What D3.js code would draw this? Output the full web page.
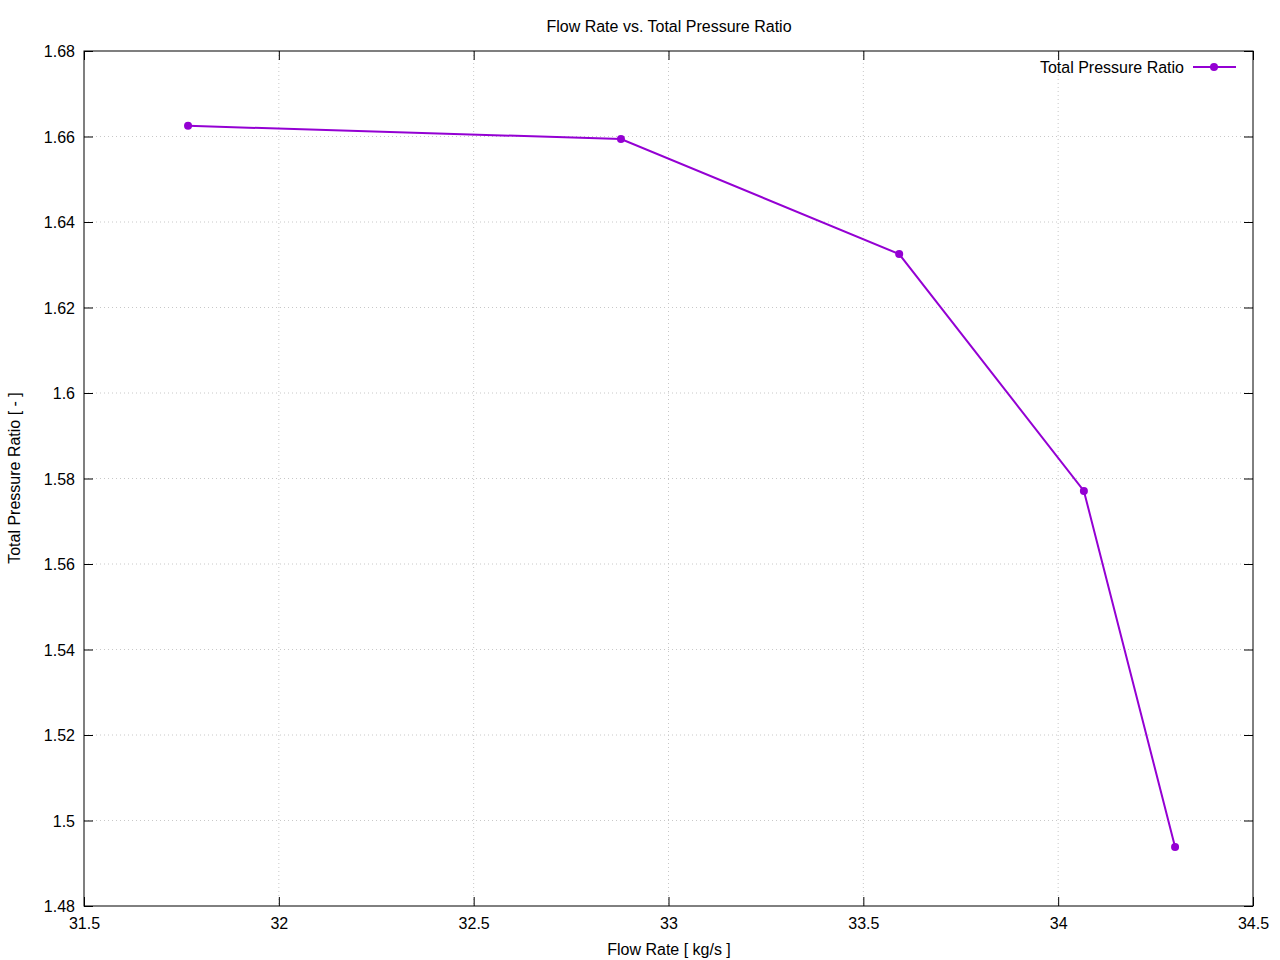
<!DOCTYPE html>
<html><head><meta charset="utf-8">
<script src="https://cdn.jsdelivr.net/npm/d3@7"></script>
<style>body{margin:0;background:#fff}svg{display:block}text{font-family:"Liberation Sans",Arial,sans-serif;fill:#000}</style>
</head><body><svg id="c" width="1280" height="960"></svg>
<script>
const flowRate = [31.767, 32.878, 33.592, 34.066, 34.300];
const pressureRatio = [1.6625, 1.6594, 1.6325, 1.5771, 1.4938];
const xTicks = [31.5, 32, 32.5, 33, 33.5, 34, 34.5];
const yTicks = [1.48, 1.5, 1.52, 1.54, 1.56, 1.58, 1.6, 1.62, 1.64, 1.66, 1.68];
const seriesName = "Total Pressure Ratio";
const titleText = "Flow Rate vs. Total Pressure Ratio";
const xLabel = "Flow Rate [ kg/s ]";
const yLabel = "Total Pressure Ratio [ - ]";

const svg = d3.select("#c");
const L = 84, R = 1253, T = 51, B = 906;
const color = "#9400d3";
const x = d3.scaleLinear().domain([31.5, 34.5]).range([L, R]);
const y = d3.scaleLinear().domain([1.48, 1.68]).range([B, T]);

// grid
const g = svg.append("g");
g.selectAll("line.gx").data(xTicks.slice(1, -1)).enter().append("line")
  .attr("x1", d => x(d)).attr("x2", d => x(d)).attr("y1", T).attr("y2", B)
  .attr("stroke", "#c8c8c8").attr("stroke-width", 1).attr("stroke-dasharray", "1,3");
g.selectAll("line.gy").data(yTicks.slice(1, -1)).enter().append("line")
  .attr("x1", L).attr("x2", R).attr("y1", d => y(d)).attr("y2", d => y(d))
  .attr("stroke", "#c8c8c8").attr("stroke-width", 1).attr("stroke-dasharray", "1,3");

// axes
const fmt = d => String(+d.toFixed(2));
const ax = svg.append("g").attr("transform", `translate(0,${B})`)
  .call(d3.axisBottom(x).tickValues(xTicks).tickFormat(fmt).tickSizeInner(-9).tickSizeOuter(0).tickPadding(12));
const axT = svg.append("g").attr("transform", `translate(0,${T})`)
  .call(d3.axisTop(x).tickValues(xTicks).tickFormat("").tickSizeInner(-9).tickSizeOuter(0));
const ay = svg.append("g").attr("transform", `translate(${L},0)`)
  .call(d3.axisLeft(y).tickValues(yTicks).tickFormat(fmt).tickSizeInner(-9).tickSizeOuter(0).tickPadding(9));
const ayR = svg.append("g").attr("transform", `translate(${R},0)`)
  .call(d3.axisRight(y).tickValues(yTicks).tickFormat("").tickSizeInner(-9).tickSizeOuter(0));
[ax, axT, ay, ayR].forEach(a => {
  a.select(".domain").remove();
  a.selectAll(".tick line").attr("stroke", "#000").attr("stroke-width", 1);
  a.selectAll("text").style("font-size", "16px").style("font-family", '"Liberation Sans",Arial,sans-serif');
});
ay.selectAll("text").attr("dy", "0.35em");

svg.append("rect").attr("x", L).attr("y", T).attr("width", R - L).attr("height", B - T)
  .attr("fill", "none").attr("stroke", "#000").attr("stroke-width", 1);

// line
const pts = flowRate.map((v, i) => [v, pressureRatio[i]]);
svg.append("path").datum(pts)
  .attr("d", d3.line().x(d => x(d[0])).y(d => y(d[1])))
  .attr("fill", "none").attr("stroke", color).attr("stroke-width", 2);
svg.selectAll("circle.p").data(pts).enter().append("circle")
  .attr("cx", d => x(d[0])).attr("cy", d => y(d[1])).attr("r", 4).attr("fill", color);

// legend
svg.append("text").attr("x", 1184).attr("y", 73).attr("text-anchor", "end")
  .style("font-size", "16px").text(seriesName);
svg.append("line").attr("x1", 1193).attr("x2", 1236).attr("y1", 67).attr("y2", 67)
  .attr("stroke", color).attr("stroke-width", 2);
svg.append("circle").attr("cx", 1214).attr("cy", 67).attr("r", 4).attr("fill", color);

// titles
svg.append("text").attr("x", 669).attr("y", 32).attr("text-anchor", "middle")
  .style("font-size", "16px").text(titleText);
svg.append("text").attr("x", 669).attr("y", 955).attr("text-anchor", "middle")
  .style("font-size", "16px").text(xLabel);
svg.append("text").attr("transform", "translate(20,478) rotate(-90)").attr("text-anchor", "middle")
  .style("font-size", "16px").text(yLabel);
</script></body></html>
